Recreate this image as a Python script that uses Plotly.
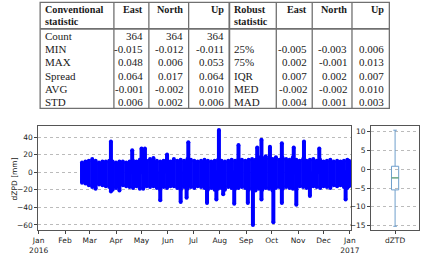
import plotly.graph_objects as go

# ---------------- table data ----------------
conv_labels = ["Count", "MIN", "MAX", "Spread", "AVG", "STD"]
conv_east = [364, -0.015, 0.048, 0.064, -0.001, 0.006]
conv_north = [364, -0.012, 0.006, 0.017, -0.002, 0.002]
conv_up = [364, -0.011, 0.053, 0.064, 0.010, 0.006]
robust_labels = ["", "25%", "75%", "IQR", "MED", "MAD"]
robust_east = [None, -0.005, 0.002, 0.007, -0.002, 0.004]
robust_north = [None, -0.003, -0.001, 0.002, -0.002, 0.001]
robust_up = [None, 0.006, 0.013, 0.007, 0.010, 0.003]

# ---------------- time series (dZPD envelope, mm) ----------------
base_dates = [
    "2016-02-21", "2016-02-25", "2016-02-29", "2016-03-04", "2016-03-08", "2016-03-12",
    "2016-03-16", "2016-03-20", "2016-03-24", "2016-03-28", "2016-04-01", "2016-04-05",
    "2016-04-09", "2016-04-13", "2016-04-17", "2016-04-21", "2016-04-25", "2016-04-29",
    "2016-05-03", "2016-05-07", "2016-05-11", "2016-05-15", "2016-05-19", "2016-05-23",
    "2016-05-27", "2016-05-31", "2016-06-04", "2016-06-08", "2016-06-12", "2016-06-16",
    "2016-06-20", "2016-06-24", "2016-06-28", "2016-07-02", "2016-07-06", "2016-07-10",
    "2016-07-14", "2016-07-18", "2016-07-22", "2016-07-26", "2016-07-30", "2016-08-03",
    "2016-08-07", "2016-08-11", "2016-08-15", "2016-08-19", "2016-08-23", "2016-08-27",
    "2016-08-31", "2016-09-04", "2016-09-08", "2016-09-12", "2016-09-16", "2016-09-20",
    "2016-09-24", "2016-09-28", "2016-10-02", "2016-10-06", "2016-10-10", "2016-10-14",
    "2016-10-18", "2016-10-22", "2016-10-26", "2016-10-30", "2016-11-03", "2016-11-07",
    "2016-11-11", "2016-11-15", "2016-11-19", "2016-11-23", "2016-11-27", "2016-12-01",
    "2016-12-05", "2016-12-09", "2016-12-13", "2016-12-17", "2016-12-21", "2016-12-25",
    "2016-12-29", "2016-12-31",
]
base_upper = [
    11, 12, 13, 15, 13, 11, 12, 12, 13, 12, 11, 12,
    12, 11, 12, 13, 12, 14, 15, 13, 15, 16, 13, 12,
    13, 15, 12, 15, 13, 14, 13, 15, 14, 13, 12, 13,
    14, 13, 12, 13, 14, 13, 12, 13, 14, 13, 15, 14,
    13, 14, 15, 14, 17, 16, 18, 16, 15, 17, 14, 16,
    15, 14, 17, 14, 13, 15, 13, 14, 15, 13, 14, 12,
    13, 14, 12, 13, 12, 13, 14, 13,
]
base_lower = [
    -12, -13, -15, -17, -19, -14, -15, -16, -17, -20, -18, -21,
    -15, -16, -17, -18, -16, -19, -19, -16, -17, -16, -18, -20,
    -17, -18, -16, -16, -18, -20, -17, -19, -17, -18, -16, -17,
    -18, -20, -18, -20, -19, -18, -20, -17, -18, -19, -18, -17,
    -18, -20, -19, -21, -19, -20, -18, -19, -21, -18, -17, -19,
    -17, -18, -19, -20, -16, -17, -18, -17, -16, -17, -18, -16,
    -17, -18, -15, -16, -15, -17, -18, -16,
]

spike_up_dates = ["2016-03-26", "2016-04-20", "2016-05-01", "2016-05-05", "2016-05-31",
                  "2016-06-25", "2016-07-31", "2016-08-23", "2016-09-14", "2016-09-19",
                  "2016-09-29", "2016-10-13", "2016-10-27", "2016-11-08", "2016-11-26"]
spike_up_values = [35, 25, 27, 27, 20, 34, 48, 31, 28, 37, 29, 33, 28, 35, 27]

spike_down_dates = ["2016-03-26", "2016-05-23", "2016-06-16", "2016-06-23", "2016-07-17",
                    "2016-07-28", "2016-08-05", "2016-08-18", "2016-09-03", "2016-09-09",
                    "2016-09-19", "2016-10-03", "2016-10-13", "2016-10-30", "2016-11-15",
                    "2016-12-27"]
spike_down_values = [-22, -32, -34, -29, -35, -31, -25, -36, -35, -60, -31, -57, -35, -37, -27, -31]

# ---------------- box plot (dZTD) ----------------
box_label = "dZTD"
box_lower = -15.2
box_q1 = -5.5
box_median = -2.3
box_q3 = 0.8
box_upper = 10.4

month_ticks = ["2016-01-01", "2016-02-01", "2016-03-01", "2016-04-01", "2016-05-01", "2016-06-01",
               "2016-07-01", "2016-08-01", "2016-09-01", "2016-10-01", "2016-11-01", "2016-12-01",
               "2017-01-01"]
month_labels = ["Jan<br>2016", "Feb", "Mar", "Apr", "May", "Jun", "Jul", "Aug", "Sep", "Oct",
                "Nov", "Dec", "Jan<br>2017"]

W, H = 429, 255


def PX(x):
    return x / W


def PY(y):
    return 1 - y / H


# segments
seg_x, seg_y = [], []
for d, lo, hi in zip(base_dates, base_lower, base_upper):
    seg_x += [d, d, None]
    seg_y += [lo, hi, None]
for d, v in zip(spike_up_dates, spike_up_values):
    seg_x += [d, d, None]
    seg_y += [0, v, None]
for d, v in zip(spike_down_dates, spike_down_values):
    seg_x += [d, d, None]
    seg_y += [0, v, None]

BLUE = "#0000ff"
fig = go.Figure()
fig.add_trace(go.Scatter(
    x=seg_x, y=seg_y, mode="lines+markers",
    line=dict(color=BLUE, width=4),
    marker=dict(color=BLUE, size=4),
    xaxis="x", yaxis="y", showlegend=False, hoverinfo="skip",
))

BOXC = "#6f9fcc"
fig.add_trace(go.Box(
    x=[box_label], q1=[box_q1], median=[box_median], q3=[box_q3],
    lowerfence=[box_lower], upperfence=[box_upper],
    width=0.15, whiskerwidth=0.5,
    line=dict(color=BOXC, width=1), fillcolor="rgba(255,255,255,0)",
    xaxis="x2", yaxis="y2", showlegend=False, boxpoints=False,
))

shapes = []
# median line in green
shapes.append(dict(type="line", xref="x2", yref="y2", x0=-0.075, x1=0.075,
                   y0=box_median, y1=box_median, line=dict(color="#62a862", width=1)))

# ---------------- table drawing ----------------
LC = "#707070"
tx0, tx1, ty0, ty1 = 32.5, 397, 2.5, 111
shapes.append(dict(type="rect", xref="paper", yref="paper", x0=PX(tx0), x1=PX(tx1),
                   y0=PY(ty1), y1=PY(ty0), line=dict(color=LC, width=1.3)))
vlines = [109.5, 146, 187.5, 230, 279, 316.5, 358]
for vx in vlines:
    shapes.append(dict(type="line", xref="paper", yref="paper", x0=PX(vx), x1=PX(vx),
                       y0=PY(ty1), y1=PY(ty0), line=dict(color=LC, width=1.3 if vx != 230 else 1.8)))
shapes.append(dict(type="line", xref="paper", yref="paper", x0=PX(tx0), x1=PX(tx1),
                   y0=PY(29.5), y1=PY(29.5), line=dict(color=LC, width=1.8)))

annotations = []
TF = dict(family="Liberation Serif", size=11, color="#1a1a1a")
TFB = dict(family="Liberation Serif", size=10.2, color="#1a1a1a")


def txt(s, x, y, anchor="left", bold=False):
    annotations.append(dict(text=("<b>%s</b>" % s) if bold else s, x=PX(x), y=PY(y),
                            xref="paper", yref="paper", xanchor=anchor, yanchor="middle",
                            showarrow=False, font=TFB if bold else TF))


# headers
txt("Conventional", 36, 9.5, bold=True)
txt("statistic", 36, 22.5, bold=True)
txt("Robust", 233, 9.5, bold=True)
txt("statistic", 233, 22.5, bold=True)
num_right = [142, 184, 227, 313, 355, 394]
for name, xr in zip(["East", "North", "Up", "East", "North", "Up"], num_right):
    txt(name, xr, 9.5, anchor="right", bold=True)


def fmt(v):
    if v is None:
        return ""
    if isinstance(v, int):
        return str(v)
    return "%.3f" % v


row_y = [37, 50.5, 64, 77.5, 91, 104.5]
cols = [conv_east, conv_north, conv_up, robust_east, robust_north, robust_up]
for i, ry in enumerate(row_y):
    txt(conv_labels[i], 36, ry)
    if robust_labels[i]:
        txt(robust_labels[i], 233, ry)
    for c, xr in zip(cols, num_right):
        s = fmt(c[i])
        if s:
            txt(s, xr, ry, anchor="right")

# y-axis title for main plot
annotations.append(dict(text="dZPD [mm]", x=PX(6), y=PY(183), xref="paper", yref="paper",
                        textangle=-90, showarrow=False, xanchor="center", yanchor="middle",
                        font=dict(family="DejaVu Sans", size=7.5, color="#222")))

AX = dict(showline=True, mirror=True, linecolor="#555", linewidth=1,
          ticks="outside", ticklen=3, tickwidth=0.8, tickcolor="#444",
          tickfont=dict(family="DejaVu Sans", size=7.5, color="#222"), zeroline=False)

fig.update_layout(
    width=W, height=H, autosize=False,
    margin=dict(l=0, r=0, t=0, b=0),
    paper_bgcolor="white", plot_bgcolor="white",
    shapes=shapes, annotations=annotations,
    xaxis=dict(domain=[PX(30.5), PX(357)], type="date", anchor="y",
               range=["2015-12-31 12:00", "2017-01-02 08:00"],
               tickvals=month_ticks, ticktext=month_labels, showgrid=False, **AX),
    yaxis=dict(domain=[PY(236), PY(129.5)], anchor="x", range=[-66.3, 52],
               tickvals=[-60, -40, -20, 0, 20, 40],
               showgrid=True, gridcolor="#bbbbbb", griddash="dot", gridwidth=0.8, **AX),
    xaxis2=dict(domain=[PX(378), PX(428)], type="category", anchor="y2",
                range=[-0.5, 0.5], showgrid=False, **AX),
    yaxis2=dict(domain=[PY(236), PY(129.5)], anchor="x2", range=[-16.3, 11.4],
                tickvals=[-15, -10, -5, 0, 5, 10],
                showgrid=True, gridcolor="#bbbbbb", griddash="dot", gridwidth=0.8, **AX),
)

fig.write_html("out.html")
